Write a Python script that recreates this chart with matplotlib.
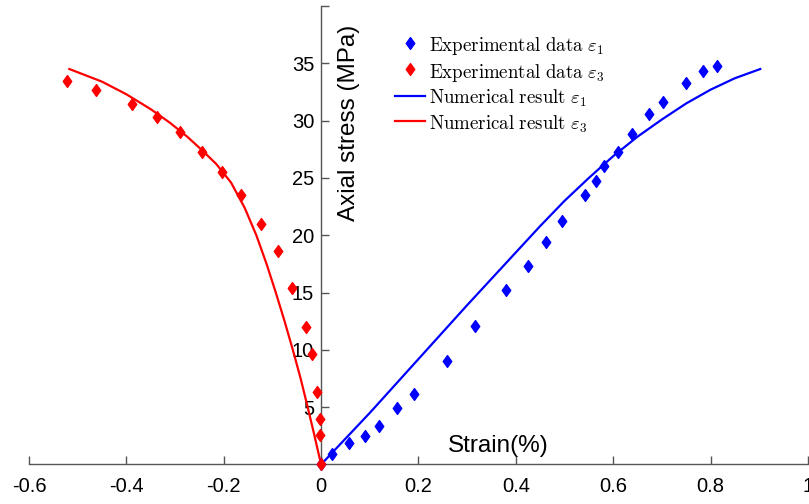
import matplotlib
matplotlib.use("Agg")
import matplotlib.pyplot as plt
from matplotlib.path import Path

plt.rcParams['font.family'] = ['Liberation Sans', 'DejaVu Sans']
plt.rcParams['mathtext.fontset'] = 'cm'
plt.rcParams['axes.unicode_minus'] = False

# experimental points, axial strain (eps1) and lateral strain (eps3)
exp1_strain = [0.0, 0.0216, 0.0572, 0.0901, 0.1198, 0.1553, 0.1903, 0.2582, 0.3158,
               0.3796, 0.4255, 0.4619, 0.4955, 0.5416, 0.5648, 0.5819, 0.6095,
               0.6395, 0.6745, 0.7033, 0.7494, 0.7843, 0.8132]
exp1_stress = [0.0, 0.89, 1.85, 2.49, 3.36, 4.90, 6.15, 9.06, 12.09,
               15.23, 17.32, 19.39, 21.25, 23.54, 24.74, 26.05, 27.30,
               28.81, 30.58, 31.61, 33.26, 34.36, 34.77]

exp3_strain = [0.0, -0.0016, -0.0016, -0.0078, -0.0195, -0.0313, -0.0601, -0.0881,
               -0.1230, -0.1642, -0.2041, -0.2438, -0.2905, -0.3364, -0.3885,
               -0.4626, -0.5210]
exp3_stress = [0.0, 2.57, 3.94, 6.35, 9.64, 11.97, 15.38, 18.63,
               21.01, 23.52, 25.55, 27.30, 29.04, 30.35, 31.46,
               32.68, 33.49]

# model curves
num1_strain = [0.0, 0.1, 0.2, 0.3, 0.4, 0.45, 0.5, 0.55, 0.6, 0.65, 0.7,
               0.75, 0.8, 0.85, 0.902]
num1_stress = [0.0, 4.5, 9.2, 13.9, 18.5, 20.8, 23.0, 25.0, 26.9, 28.6, 30.1,
               31.5, 32.7, 33.7, 34.5]

num3_strain = [0.0, -0.0135, -0.0275, -0.042, -0.058, -0.075, -0.093, -0.112, -0.133,
               -0.157, -0.185, -0.215, -0.244, -0.275, -0.31, -0.35, -0.40, -0.45, -0.517]
num3_stress = [0.0, 2.5, 5.0, 7.5, 10.0, 12.5, 15.0, 17.5, 20.0,
               22.4, 24.6, 26.2, 27.4, 28.6, 29.8, 31.0, 32.3, 33.4, 34.5]

x_ticks = [-0.6, -0.4, -0.2, 0, 0.2, 0.4, 0.6, 0.8, 1]
x_ticklabels = ['-0.6', '-0.4', '-0.2', '0', '0.2', '0.4', '0.6', '0.8', '1']
y_ticks = [5, 10, 15, 20, 25, 30, 35, 40]
y_ticklabels = ['5', '10', '15', '20', '25', '30', '35', '']

# slightly tall diamond marker
diamond = Path([(0, 1), (0.72, 0), (0, -1), (-0.72, 0), (0, 1)],
               [Path.MOVETO, Path.LINETO, Path.LINETO, Path.LINETO, Path.CLOSEPOLY])

axis_grey = '#555555'

fig = plt.figure(figsize=(8.09, 5.04), dpi=100)
ax = fig.add_axes([0.0358, 0.0784, 0.9629, 0.9097])

ax.plot(exp1_strain, exp1_stress, linestyle='none', marker=diamond, markersize=8.5,
        color='#0000ff', label=r'$\mathrm{Experimental\ data}\ \varepsilon_1$', clip_on=False, zorder=3)
ax.plot(exp3_strain, exp3_stress, linestyle='none', marker=diamond, markersize=8.5,
        color='#ff0000', label=r'$\mathrm{Experimental\ data}\ \varepsilon_3$', clip_on=False, zorder=4)
ax.plot(num1_strain, num1_stress, color='#0000ff', lw=1.6,
        label=r'$\mathrm{Numerical\ result}\ \varepsilon_1$', zorder=2)
ax.plot(num3_strain, num3_stress, color='#ff0000', lw=1.6,
        label=r'$\mathrm{Numerical\ result}\ \varepsilon_3$', zorder=2)

ax.set_xlim(-0.6, 1.0)
ax.set_ylim(0, 40)

for side in ('top', 'right'):
    ax.spines[side].set_visible(False)
ax.spines['left'].set_position(('data', 0))
for side in ('left', 'bottom'):
    ax.spines[side].set_color(axis_grey)
    ax.spines[side].set_linewidth(1.0)

ax.set_xticks(x_ticks)
ax.set_xticklabels(x_ticklabels)
ax.set_yticks(y_ticks)
ax.set_yticklabels(y_ticklabels)
ax.tick_params(axis='both', direction='in', length=5.5, width=1.0, color=axis_grey,
               labelsize=14.5, labelcolor='black')
ax.tick_params(axis='x', pad=9)
ax.tick_params(axis='y', pad=5)

ax.set_xlabel('Strain(%)', fontsize=17.5)
ax.xaxis.set_label_coords(0.603, 0.040)
ax.xaxis.label.set_va('center')

ax.set_ylabel('Axial stress (MPa)', fontsize=17.5)
ax.yaxis.set_label_coords(0.411, 0.744)
ax.yaxis.label.set_va('center')
ax.yaxis.label.set_ha('center')

ax.legend(loc='upper left', bbox_to_anchor=(395 / 809, 1 - 34 / 504),
          bbox_transform=fig.transFigure, frameon=False, fontsize=13.6,
          handlelength=1.6, handletextpad=0.2, handleheight=1.41, labelspacing=0.17,
          borderpad=0, borderaxespad=0, numpoints=1)

fig.savefig('out.png', dpi=100)
